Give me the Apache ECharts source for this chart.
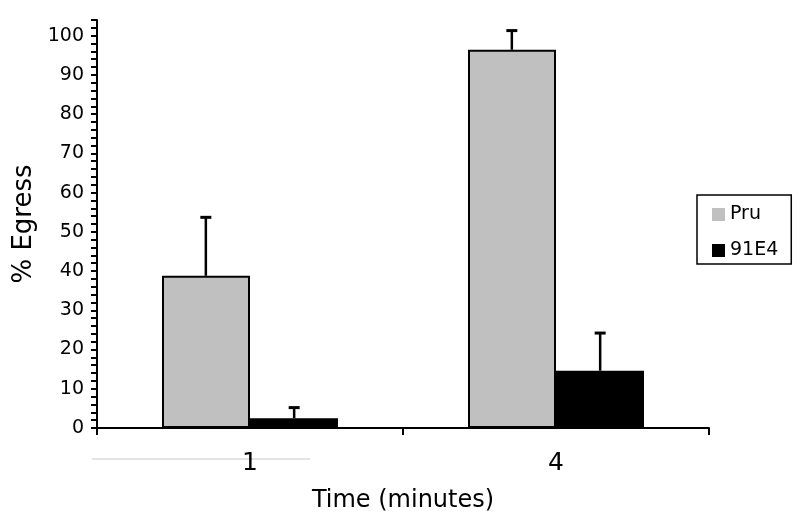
<!DOCTYPE html>
<html>
<head>
<meta charset="utf-8">
<script src="https://cdn.jsdelivr.net/npm/echarts@6/dist/echarts.min.js"></script>
<style>html,body{margin:0;padding:0;background:#fff;}#c{width:800px;height:522px;}</style>
</head>
<body>
<div id="c"></div>
<script>
var categories = ['1', '4'];
var seriesNames = ['Pru', '91E4'];
var pruValues = [38.8, 96.4];
var pruErrTop = [53.7, 101.3];
var e4Values = [2.5, 14.6];
var e4ErrTop = [5.2, 24.2];
var yTickLabels = [0, 10, 20, 30, 40, 50, 60, 70, 80, 90, 100];

var FONT = 'DejaVu Sans, Liberation Sans, Arial, sans-serif';
var chart = echarts.init(document.getElementById('c'), null, {renderer: 'canvas'});

function errSeries(values, tops, side) {
  return {
    type: 'custom',
    silent: true,
    z: 5,
    data: values.map(function (v, i) { return [i, v, tops[i]]; }),
    renderItem: function (params, api) {
      var band = api.size([1, 0])[0];
      var off = side * band * 0.1443;
      var p0 = api.coord([api.value(0), api.value(1)]);
      var p1 = api.coord([api.value(0), api.value(2)]);
      var x = p0[0] + off;
      return {
        type: 'group',
        children: [
          {type: 'line', shape: {x1: x, y1: p0[1], x2: x, y2: p1[1]}, style: {stroke: '#000', lineWidth: 2.5}},
          {type: 'line', shape: {x1: x - 5.5, y1: p1[1], x2: x + 5.5, y2: p1[1]}, style: {stroke: '#000', lineWidth: 3}}
        ]
      };
    }
  };
}

chart.setOption({
  animation: false,
  backgroundColor: '#fff',
  grid: {left: 97, right: 91, top: 20, bottom: 94, containLabel: false},
  legend: {
    orient: 'vertical',
    left: 697,
    top: 195,
    data: seriesNames,
    itemWidth: 13,
    itemHeight: 13,
    itemGap: 17,
    padding: [10, 13, 4, 15],
    borderColor: '#000',
    borderWidth: 1.5,
    icon: 'rect',
    itemStyle: {borderWidth: 0},
    textStyle: {fontFamily: FONT, fontSize: 19, color: '#000'}
  },
  xAxis: {
    type: 'category',
    data: categories,
    name: 'Time (minutes)',
    nameLocation: 'middle',
    nameGap: 61,
    nameTextStyle: {fontFamily: FONT, fontSize: 24, color: '#000'},
    axisLine: {lineStyle: {color: '#000', width: 2}},
    axisTick: {show: true, length: 7, lineStyle: {color: '#000', width: 2}},
    axisLabel: {fontFamily: FONT, fontSize: 25, color: '#000', margin: 23}
  },
  yAxis: {
    type: 'value',
    min: 0,
    max: 104,
    interval: 2,
    name: '% Egress',
    nameLocation: 'middle',
    nameGap: 53,
    nameTextStyle: {fontFamily: FONT, fontSize: 26, color: '#000'},
    splitLine: {show: false},
    axisLine: {show: true, lineStyle: {color: '#000', width: 2}},
    axisTick: {show: true, length: 6, lineStyle: {color: '#000', width: 2}},
    axisLabel: {
      fontFamily: FONT, fontSize: 19, color: '#000', margin: 13,
      formatter: function (v) { return yTickLabels.indexOf(v) >= 0 ? String(v) : ''; }
    }
  },
  series: [
    {
      name: seriesNames[0], type: 'bar', data: pruValues, barWidth: 88, barGap: '0%',
      itemStyle: {color: '#c0c0c0', borderColor: '#000', borderWidth: 2}
    },
    {
      name: seriesNames[1], type: 'bar', data: e4Values, barWidth: 88, barGap: '0%',
      itemStyle: {color: '#000', borderColor: '#000', borderWidth: 2}
    },
    errSeries(pruValues, pruErrTop, -1),
    errSeries(e4Values, e4ErrTop, 1)
  ],
  graphic: [
    {type: 'line', shape: {x1: 92, y1: 459, x2: 310, y2: 459}, style: {stroke: '#c8c8c8', lineWidth: 1}, z: -1}
  ]
});
</script>
</body>
</html>
